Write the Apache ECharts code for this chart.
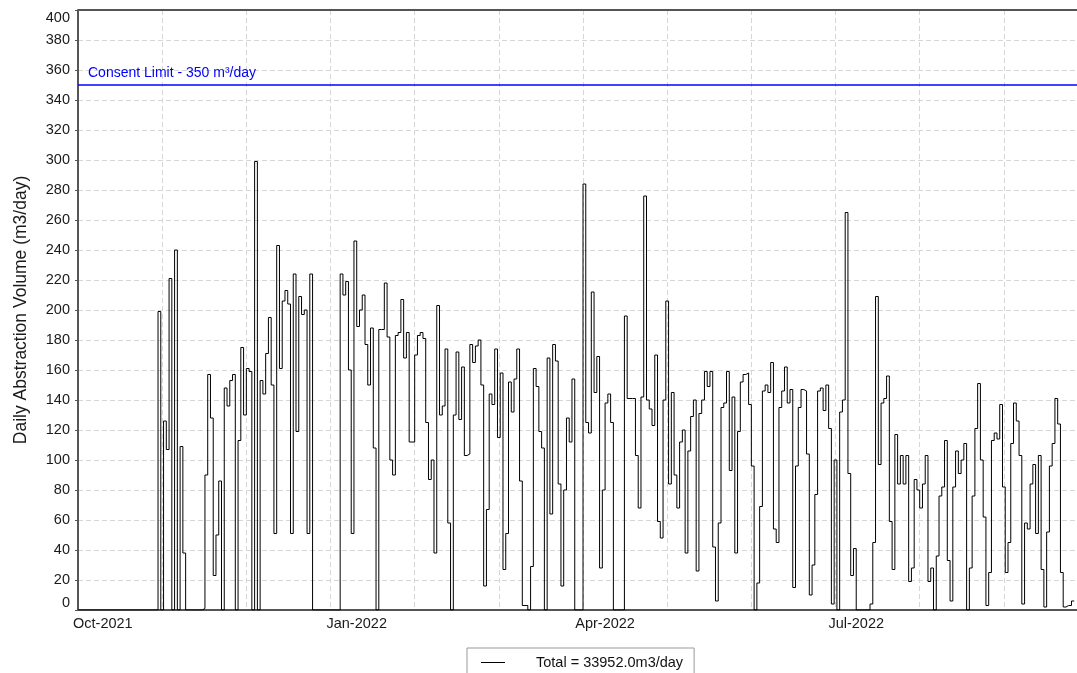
<!DOCTYPE html>
<html>
<head>
<meta charset="utf-8">
<title>Daily Abstraction Volume</title>
<script src="https://cdn.jsdelivr.net/npm/echarts@6/dist/echarts.min.js"></script>
<style>
  html, body { margin: 0; padding: 0; background: #fff; }
  #chart { width: 1077px; height: 673px; }
</style>
</head>
<body>
<div id="chart"></div>
<script>
// first day on the x axis; one value per day from here
const startDate = '2021-09-22';
const axisDays = 362;

// daily abstraction volume (m3/day)
const dailyVolume = [
  0, 0, 0, 0, 0, 0, 0, 0, 0, 0,
  0, 0, 0, 0, 0, 0, 0, 0, 0, 0,
  0, 0, 0, 0, 0, 0, 0, 0, 0, 199,
  0, 126, 107, 221, 0, 240, 0, 109, 38, 0,
  0, 0, 0, 0, 0, 1, 90, 157, 128, 23,
  50, 86, 0, 148, 136, 153, 157, 0, 113, 175,
  130, 161, 159, 0, 299, 0, 153, 144, 171, 195,
  150, 51, 243, 161, 206, 213, 204, 51, 224, 119,
  209, 197, 200, 51, 224, 0, 0, 0, 0, 0,
  0, 0, 0, 0, 0, 224, 210, 219, 160, 51,
  246, 189, 200, 210, 177, 150, 188, 108, 0, 187,
  187, 218, 182, 100, 90, 183, 185, 207, 168, 185,
  112, 112, 170, 183, 185, 181, 125, 87, 100, 38,
  203, 130, 136, 174, 58, 0, 130, 172, 127, 162,
  103, 104, 177, 165, 176, 180, 150, 16, 67, 144,
  137, 174, 115, 158, 27, 51, 152, 132, 154, 174,
  86, 3, 3, 0, 29, 161, 149, 119, 108, 0,
  168, 64, 177, 166, 84, 16, 80, 128, 112, 154,
  0, 0, 0, 284, 125, 118, 212, 145, 169, 28,
  80, 138, 144, 125, 0, 0, 0, 0, 196, 141,
  141, 141, 103, 68, 142, 276, 140, 134, 123, 170,
  59, 48, 140, 206, 84, 145, 90, 68, 112, 120,
  38, 106, 129, 140, 26, 131, 140, 159, 149, 159,
  42, 6, 58, 135, 138, 159, 93, 142, 38, 119,
  152, 157, 158, 137, 96, 0, 18, 69, 146, 150,
  145, 165, 54, 45, 135, 146, 162, 138, 147, 15,
  96, 135, 147, 146, 104, 10, 30, 77, 146, 148,
  133, 150, 121, 4, 100, 0, 132, 140, 265, 91,
  23, 41, 0, 0, 0, 0, 0, 4, 45, 209,
  97, 138, 141, 156, 59, 27, 117, 84, 103, 84,
  103, 19, 28, 87, 80, 68, 84, 103, 19, 28,
  0, 36, 76, 82, 113, 33, 6, 82, 106, 91,
  100, 111, 0, 28, 76, 121, 151, 100, 62, 3,
  25, 113, 118, 114, 137, 82, 25, 45, 111, 138,
  126, 103, 4, 58, 54, 84, 97, 51, 103, 27,
  2, 52, 96, 111, 141, 124, 25, 2, 3, 3,
  6
];

// x axis labels and the dates they sit on
const tickLabels = ['Oct-2021', 'Jan-2022', 'Apr-2022', 'Jul-2022'];
const tickDates = ['2021-10-01', '2022-01-01', '2022-04-01', '2022-07-01'];

// y axis
const yMin = 0;
const yMax = 400;
const yStep = 20;

const consentLimit = 350;
const consentText = 'Consent Limit - 350 m³/day';
const legendName = 'Total = 33952.0m3/day';
const yName = 'Daily Abstraction Volume (m3/day)';

const dayMs = 24 * 3600 * 1000;
const dayOf = d => Math.round((Date.parse(d) - Date.parse(startDate)) / dayMs);
const tickDays = tickDates.map(dayOf);

// each value covers its whole day, so close the last step one day later
const lineData = dailyVolume.map((v, i) => [i, v]);
lineData.push([dailyVolume.length, dailyVolume[dailyVolume.length - 1]]);

// consent limit drawn as a flat line across the whole axis
const limitData = [[0, consentLimit], [axisDays, consentLimit]];

const font = 'Arial, "Liberation Sans", sans-serif';
const gridDash = { color: '#d6d6d6', type: [5, 3], width: 1 };
const limitBlue = '#0000ff';

const chart = echarts.init(document.getElementById('chart'), null, { renderer: 'canvas' });
chart.setOption({
  animation: false,
  textStyle: { fontFamily: font },
  grid: {
    left: 78, right: 0, top: 10, bottom: 63,
    show: true, borderWidth: 0, backgroundColor: '#fff'
  },
  legend: {
    data: [legendName],
    left: 467, top: 648,
    padding: [7, 11, 10, 14],
    borderColor: '#999', borderWidth: 1,
    icon: 'rect', itemWidth: 24, itemHeight: 1,
    itemStyle: { color: '#000' },
    textStyle: { fontFamily: font, fontSize: 14.5, color: '#111', padding: [0, 0, 0, 26] }
  },
  xAxis: [
    {
      type: 'value', min: 0, max: axisDays,
      axisLine: { show: true, lineStyle: { color: '#555', width: 2 } },
      axisTick: { show: false },
      splitLine: { show: false },
      axisLabel: {
        customValues: tickDays,
        formatter: v => tickLabels[tickDays.indexOf(v)] || '',
        fontFamily: font, fontSize: 14.5, color: '#1a1a1a', margin: 6
      }
    },
    {
      // monthly dashed grid
      type: 'value', min: 0, max: axisDays, interval: 30.5,
      position: 'bottom',
      axisLine: { show: false }, axisTick: { show: false }, axisLabel: { show: false },
      splitLine: { show: true, lineStyle: gridDash }
    }
  ],
  yAxis: {
    type: 'value', min: yMin, max: yMax, interval: yStep,
    name: yName, nameLocation: 'middle', nameRotate: 90, nameGap: 48,
    nameTextStyle: { fontFamily: font, fontSize: 17.5, color: '#1a1a1a' },
    axisLine: { show: true, lineStyle: { color: '#555', width: 2 } },
    axisTick: { show: true, length: 3, lineStyle: { color: '#555' } },
    axisLabel: {
      fontFamily: font, fontSize: 14.5, color: '#1a1a1a', margin: 8,
      verticalAlignMinLabel: 'bottom', verticalAlignMaxLabel: 'top'
    },
    splitLine: { show: true, lineStyle: gridDash }
  },
  series: [
    {
      // top frame line
      type: 'line', data: [], silent: true,
      markLine: {
        symbol: 'none', silent: true, label: { show: false },
        lineStyle: { color: '#555', width: 2, type: 'solid' },
        data: [{ yAxis: yMax }]
      }
    },
    {
      name: legendName,
      type: 'line',
      step: 'end',
      data: lineData,
      symbol: 'none',
      showSymbol: false,
      lineStyle: { color: '#000', width: 1 },
      itemStyle: { color: '#000' },
      z: 2
    },
    {
      // consent limit
      name: 'limit',
      type: 'line',
      data: limitData,
      symbol: 'none',
      showSymbol: false,
      silent: true,
      z: 3,
      lineStyle: { color: limitBlue, width: 1.3 },
      itemStyle: { color: limitBlue },
      markPoint: {
        symbol: 'circle', symbolSize: 0, silent: true,
        label: {
          show: true, position: 'right', distance: 10, offset: [0, -12],
          formatter: consentText,
          color: limitBlue, fontFamily: font, fontSize: 14
        },
        data: [{ coord: limitData[0] }]
      }
    }
  ]
});
</script>
</body>
</html>
